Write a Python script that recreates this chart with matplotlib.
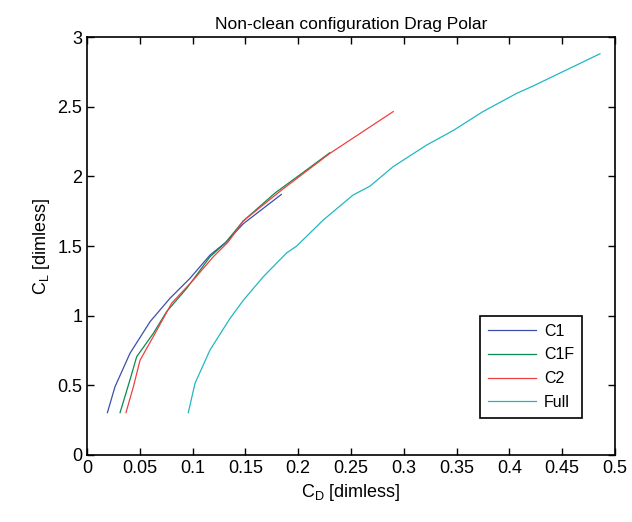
import numpy as np
import matplotlib
matplotlib.use('Agg')
import matplotlib.pyplot as plt

plt.rcParams['font.family'] = ['Liberation Sans', 'DejaVu Sans']
plt.rcParams['mathtext.fontset'] = 'custom'
plt.rcParams['mathtext.rm'] = 'Liberation Sans'
plt.rcParams['mathtext.it'] = 'Liberation Sans'

# drag polar data
c1_cd = [0.0193, 0.0265, 0.0407, 0.0597, 0.0786, 0.0975, 0.1165, 0.132, 0.148, 0.184]
c1_cl = [0.304, 0.49, 0.73, 0.957, 1.125, 1.268, 1.435, 1.53, 1.66, 1.87]

c1f_cd = [0.0313, 0.0407, 0.047, 0.0628, 0.0755, 0.0944, 0.1165, 0.1307, 0.148, 0.178, 0.205, 0.230]
c1f_cl = [0.304, 0.54, 0.705, 0.873, 1.03, 1.196, 1.423, 1.52, 1.68, 1.88, 2.03, 2.17]

c2_cd = [0.0369, 0.0439, 0.0502, 0.0628, 0.0802, 0.1007, 0.1196, 0.1338, 0.148, 0.184, 0.230, 0.255, 0.290]
c2_cl = [0.304, 0.49, 0.68, 0.85, 1.09, 1.256, 1.423, 1.53, 1.68, 1.90, 2.165, 2.29, 2.465]

full_cd = [0.0959, 0.1023, 0.1165, 0.1354, 0.148, 0.167, 0.189, 0.1986, 0.2238, 0.252,
           0.268, 0.290, 0.3217, 0.347, 0.375, 0.407, 0.4226, 0.4858]
full_cl = [0.304, 0.515, 0.754, 0.98, 1.11, 1.28, 1.45, 1.50, 1.687, 1.866,
           1.93, 2.07, 2.225, 2.33, 2.465, 2.596, 2.649, 2.88]

fig = plt.figure(figsize=(6.32, 5.22), dpi=100)
ax = fig.add_axes([0.1377, 0.1284, 0.8353, 0.8006])

ax.plot(c1_cd, c1_cl, color='#3b4fa8', lw=0.9, label='C1')
ax.plot(c1f_cd, c1f_cl, color='#0a8a50', lw=0.9, label='C1F')
ax.plot(c2_cd, c2_cl, color='#f04040', lw=0.9, label='C2')
ax.plot(full_cd, full_cl, color='#20b8c0', lw=0.9, label='Full')

ax.set_xlim(0, 0.5)
ax.set_ylim(0, 3)
ax.set_xticks(np.arange(0, 0.51, 0.05))
ax.set_xticklabels(['0', '0.05', '0.1', '0.15', '0.2', '0.25', '0.3', '0.35', '0.4', '0.45', '0.5'])
ax.set_yticks(np.arange(0, 3.01, 0.5))
ax.set_yticklabels(['0', '0.5', '1', '1.5', '2', '2.5', '3'])
ax.tick_params(direction='in', top=True, right=True, labelsize=13, length=5, width=1)
for s in ax.spines.values():
    s.set_linewidth(1.2)

ax.set_title('Non-clean configuration Drag Polar', fontsize=12.5)
ax.set_xlabel(r'C$_\mathrm{D}$ [dimless]', fontsize=13)
ax.set_ylabel(r'C$_\mathrm{L}$ [dimless]', fontsize=13)

leg = ax.legend(loc='lower right', bbox_to_anchor=(0.9375, 0.0885), fontsize=11.5,
                fancybox=False, edgecolor='black', framealpha=1, handlelength=3.0,
                labelspacing=0.55, borderpad=0.5, borderaxespad=0, handletextpad=0.5)
leg.get_frame().set_linewidth(1.2)

fig.savefig('out.png', dpi=100)
